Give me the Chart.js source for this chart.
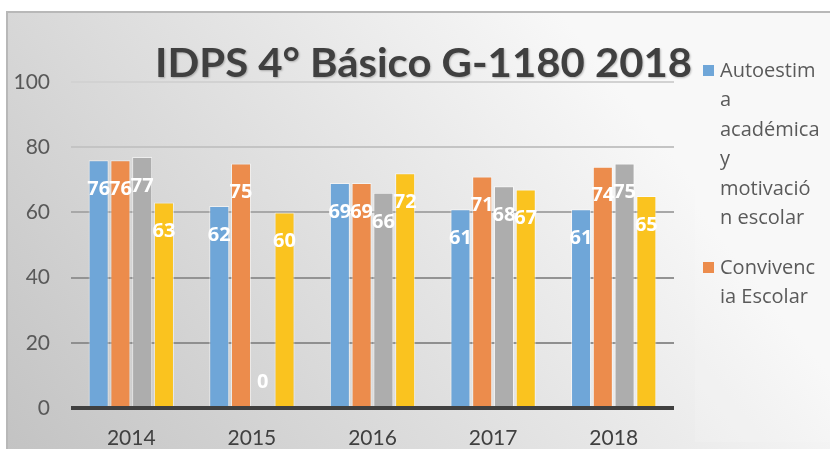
<!DOCTYPE html>
<html>
<head>
<meta charset="utf-8">
<script src="https://cdn.jsdelivr.net/npm/chart.js@4"></script>
<style>
  html, body { margin: 0; padding: 0; background: #fff; }
  #wrap { width: 830px; height: 449px; }
</style>
</head>
<body>
<div id="wrap"><canvas id="idpsChart" width="830" height="449"></canvas></div>
<script>
const years = ["2014", "2015", "2016", "2017", "2018"];
const autoestima = [76, 62, 69, 61, 61];
const convivencia = [76, 75, 69, 71, 74];
const participacion = [77, 0, 66, 68, 75];
const habitos = [63, 60, 72, 67, 65];
const yTicks = [0, 20, 40, 60, 80, 100];
const chartTitle = "IDPS 4° Básico G-1180 2018";
// legend text as wrapped in the original (only the first two items fit)
const legendLines = [
  ["Autoestim", "a", "académica", "y", "motivació", "n escolar"],
  ["Convivenc", "ia Escolar"],
];

const colors = ["#6fa6d8", "#ec8c4c", "#adadad", "#fac31f"];

// gradient background, frame and legend panel
const backgroundPlugin = {
  id: "bg",
  beforeDraw(chart) {
    const ctx = chart.ctx;
    ctx.save();
    ctx.fillStyle = "#ffffff";
    ctx.fillRect(0, 0, chart.width, chart.height);
    const g = ctx.createLinearGradient(7, 449, 560, 12);
    g.addColorStop(0, "#c3c3c3");
    g.addColorStop(1, "#f8f8f8");
    ctx.fillStyle = g;
    ctx.fillRect(7, 12, chart.width - 7, chart.height - 12);
    ctx.strokeStyle = "#b8b8b8";
    ctx.lineWidth = 2;
    ctx.beginPath();
    ctx.moveTo(7, chart.height);
    ctx.lineTo(7, 12);
    ctx.lineTo(chart.width, 12);
    ctx.stroke();
    // legend panel
    ctx.fillStyle = "rgba(255,255,255,0.12)";
    ctx.fillRect(695, 52, chart.width - 695, 390);
    ctx.restore();
  },
};

// white value labels inside the bars
const valueLabels = {
  id: "valueLabels",
  afterDatasetsDraw(chart) {
    const ctx = chart.ctx;
    ctx.save();
    ctx.font = "bold 20px 'Open Sans'";
    ctx.fillStyle = "#ffffff";
    ctx.textAlign = "center";
    ctx.textBaseline = "middle";
    chart.data.datasets.forEach((ds, i) => {
      chart.getDatasetMeta(i).data.forEach((bar, j) => {
        const y = Math.min(bar.y + 29, bar.base - 26);
        ctx.fillText(ds.data[j], bar.x, y);
      });
    });
    ctx.restore();
  },
};

// big title overlapping the top of the plot, and the wrapped legend
const titleAndLegend = {
  id: "titleAndLegend",
  afterDraw(chart) {
    const ctx = chart.ctx;
    ctx.save();
    ctx.font = "bold 40px Lato";
    const w = ctx.measureText(chartTitle).width;
    const sx = 537 / w;
    ctx.translate(155, 77);
    ctx.scale(sx, 1);
    ctx.textBaseline = "alphabetic";
    ctx.shadowColor = "rgba(0,0,0,0.25)";
    ctx.shadowOffsetX = 1;
    ctx.shadowOffsetY = 1;
    ctx.shadowBlur = 2;
    ctx.fillStyle = "#404040";
    ctx.fillText(chartTitle, 0, 0);
    ctx.restore();

    ctx.save();
    ctx.font = "20px 'Open Sans'";
    ctx.textBaseline = "middle";
    let y = 71;
    legendLines.forEach((lines, i) => {
      ctx.fillStyle = colors[i];
      ctx.fillRect(703, y - 6, 11, 11);
      ctx.fillStyle = "#5a5a5a";
      lines.forEach((t) => {
        ctx.fillText(t, 720, y);
        y += 29.5;
      });
      y += 20;
    });
    ctx.restore();
  },
};

const gridColors = { 0: "#404040", 20: "#8f8f8f", 40: "#939393", 60: "#a8a8a8", 80: "#c4c4c4", 100: "#d2d2d2" };

new Chart(document.getElementById("idpsChart"), {
  type: "bar",
  data: {
    labels: years,
    datasets: [
      { label: "Autoestima académica y motivación escolar", data: autoestima, backgroundColor: colors[0] },
      { label: "Convivencia Escolar", data: convivencia, backgroundColor: colors[1] },
      { label: "Participación y formación ciudadana", data: participacion, backgroundColor: colors[2] },
      { label: "Hábitos de vida saludable", data: habitos, backgroundColor: colors[3] },
    ].map((d) => ({
      ...d,
      borderColor: "rgba(255,255,255,0.55)",
      borderWidth: 1,
      categoryPercentage: 0.722,
      barPercentage: 0.92,
    })),
  },
  options: {
    responsive: false,
    animation: false,
    layout: { padding: { top: 82, right: 156, left: 0, bottom: 0 } },
    plugins: {
      legend: { display: false },
      title: { display: false },
      tooltip: { enabled: false },
    },
    scales: {
      x: {
        grid: { display: false, drawTicks: false },
        border: { display: false },
        ticks: { font: { family: "Lato", size: 21 }, color: "#404040", padding: 18 },
        afterFit(scale) { scale.height = 41; },
      },
      y: {
        min: 0,
        max: 100,
        afterBuildTicks(scale) { scale.ticks = yTicks.map((v) => ({ value: v })); },
        grid: {
          drawTicks: false,
          color: (c) => gridColors[c.tick.value] || "#aaaaaa",
          lineWidth: (c) => (c.tick.value === 0 ? 4 : 2),
        },
        border: { display: false },
        ticks: { font: { family: "Lato", size: 21 }, color: "#595959", padding: 21 },
        afterFit(scale) { scale.width = 71; },
      },
    },
  },
  plugins: [backgroundPlugin, valueLabels, titleAndLegend],
});
</script>
</body>
</html>
